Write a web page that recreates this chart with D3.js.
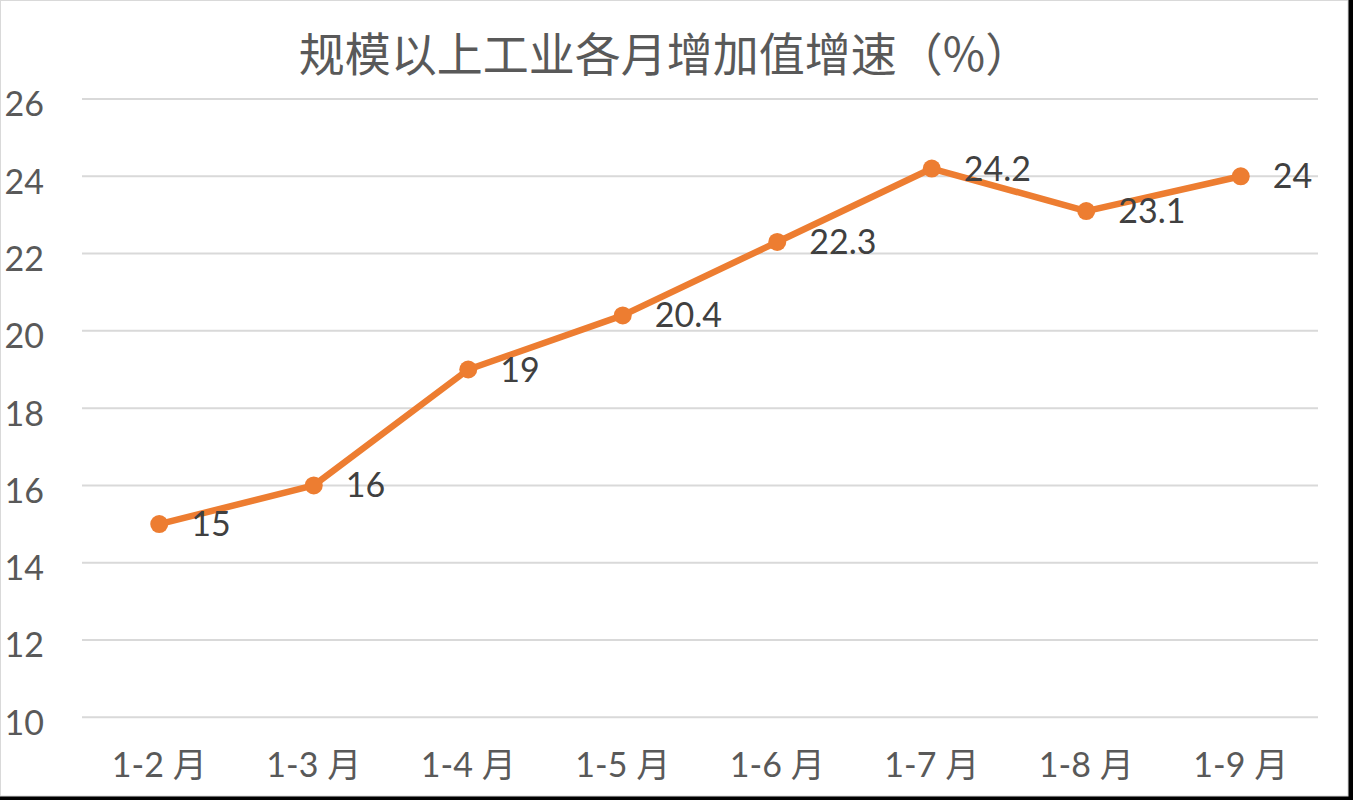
<!DOCTYPE html>
<html>
<head>
<meta charset="utf-8">
<script src="https://cdn.jsdelivr.net/npm/d3@7"></script>
<style>
  html, body { margin: 0; padding: 0; background: #000; }
  svg { display: block; }
</style>
</head>
<body>
<svg id="chart" width="1353" height="800"></svg>
<script>
const titleText = "规模以上工业各月增加值增速（%）";
const categories = ["1-2 月", "1-3 月", "1-4 月", "1-5 月", "1-6 月", "1-7 月", "1-8 月", "1-9 月"];
const values = [15, 16, 19, 20.4, 22.3, 24.2, 23.1, 24];
const yTicks = [10, 12, 14, 16, 18, 20, 22, 24, 26];

const svg = d3.select("#chart");
const W = 1353, H = 800;

// background + frame
svg.append("rect").attr("x", 0).attr("y", 0).attr("width", W).attr("height", H).attr("fill", "#000");
svg.append("rect").attr("x", 0.5).attr("y", 0.5).attr("width", 1347.5).attr("height", 795.5)
  .attr("fill", "#fff").attr("stroke", "#d9d9d9").attr("stroke-width", 1);

const plot = { left: 82, right: 1318, top: 99, bottom: 717.3 };

const x = d3.scaleBand().domain(categories).range([plot.left, plot.right]);
const y = d3.scaleLinear().domain([10, 26]).range([plot.bottom, plot.top]);

// gridlines
svg.append("g").selectAll("line").data(yTicks).join("line")
  .attr("x1", plot.left).attr("x2", plot.right)
  .attr("y1", d => y(d)).attr("y2", d => y(d))
  .attr("stroke", "#d9d9d9").attr("stroke-width", 2);

// y axis labels
const yAxis = d3.axisLeft(y).tickValues(yTicks).tickSize(0).tickPadding(0);
const yg = svg.append("g").attr("transform", "translate(44,6)").call(yAxis);
yg.select(".domain").remove();
yg.selectAll("text")
  .attr("fill", "#595959")
  .style("font-family", "Lato, 'Open Sans', sans-serif")
  .style("font-size", "34px");

// x axis labels
const xAxis = d3.axisBottom(x).tickSize(0).tickPadding(0);
const xg = svg.append("g").attr("transform", `translate(0,${plot.bottom + 32})`).call(xAxis);
xg.select(".domain").remove();
xg.selectAll("text")
  .attr("fill", "#595959")
  .attr("dy", "0")
  .attr("y", 0)
  .attr("dominant-baseline", "hanging")
  .style("font-family", "Lato, 'Noto Sans CJK SC', sans-serif")
  .style("font-size", "34px");

// title
svg.append("text")
  .attr("x", 665).attr("y", 71)
  .attr("text-anchor", "middle")
  .attr("fill", "#595959")
  .style("font-family", "'Noto Sans CJK SC', sans-serif")
  .style("font-size", "46px")
  .text(titleText);

const cx = (d, i) => x(categories[i]) + x.bandwidth() / 2;

// line
const line = d3.line().x((d, i) => cx(d, i)).y(d => y(d));
svg.append("path").datum(values)
  .attr("d", line)
  .attr("fill", "none")
  .attr("stroke", "#ED7D31")
  .attr("stroke-width", 6.5)
  .attr("stroke-linejoin", "round");

// markers
svg.append("g").selectAll("circle").data(values).join("circle")
  .attr("cx", (d, i) => cx(d, i))
  .attr("cy", d => y(d))
  .attr("r", 9)
  .attr("fill", "#ED7D31");

// data labels
svg.append("g").selectAll("text").data(values).join("text")
  .attr("x", (d, i) => cx(d, i) + 32)
  .attr("y", d => y(d) + 12)
  .attr("fill", "#404040")
  .style("font-family", "Lato, 'Open Sans', sans-serif")
  .style("font-size", "34px")
  .text(d => d);
</script>
</body>
</html>
